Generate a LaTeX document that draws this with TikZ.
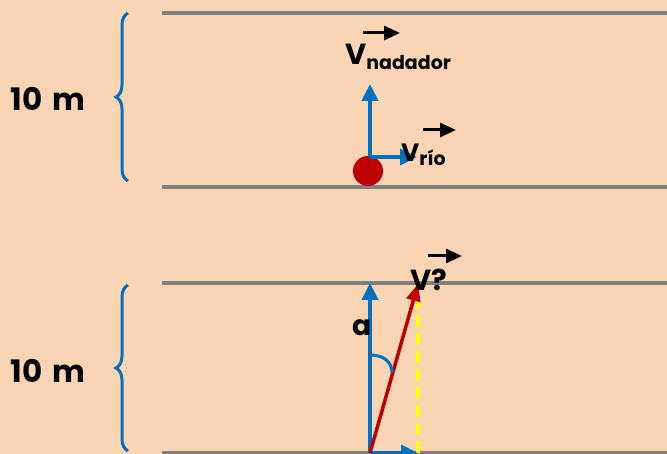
\documentclass[tikz,border=0pt]{standalone}
\usepackage{fontspec}
\setmainfont{Poppins}
\usetikzlibrary{arrows.meta, decorations.pathreplacing, positioning}
\definecolor{peach}{RGB}{250,213,180}
\definecolor{riverline}{RGB}{128,128,128}
\definecolor{vblue}{RGB}{0,112,192}
\definecolor{vred}{RGB}{192,0,0}
\definecolor{dashyellow}{RGB}{255,255,0}
\tikzset{
  bank/.style={draw=riverline, line width=3.5pt},
  widthbrace/.style={draw=vblue, line width=3pt, decorate,
    decoration={brace, amplitude=12pt}},
  velvec/.style={draw=vblue, line width=4pt, -{Triangle[length=17pt,width=16pt]}},
  resvec/.style={draw=vred, line width=3.5pt, -{Triangle[length=17pt,width=14pt]}},
  vecmark/.style={draw=black, line width=3pt, -{Triangle[length=16pt,width=14pt]}},
  lbl/.style={inner sep=0pt, anchor=base west, font=\bfseries},
}
\begin{document}
\begin{tikzpicture}[x=1pt, y=-1pt]
  \useasboundingbox (0,0) rectangle (667,454);
  \fill[peach] (0,0) rectangle (667,454);
  % river banks
  \draw[bank] (162,13) -- (667,13);
  \draw[bank] (162,187) -- (667,187);
  \draw[bank] (162,283) -- (667,283);
  \draw[bank] (162,453) -- (667,453);
  % widths
  \draw[widthbrace] (128,181) -- (128,13);
  \draw[widthbrace] (128,451) -- (128,285);
  \node[font=\bfseries\fontsize{31}{31}\selectfont, inner sep=0pt] (w1) at (48,99) {10\,\,m};
  \node[font=\bfseries\fontsize{31}{31}\selectfont, inner sep=0pt] (w2) at (48,371) {10\,\,m};

  % upper case: swimmer and the two velocities
  \coordinate (o1) at (370,157);
  \coordinate (swimtop) at (370,84);
  \coordinate (rivtip) at (417,157);
  \fill[vred] (368,171) circle (15);
  \draw[velvec] (o1) -- (swimtop);
  \draw[velvec] (o1) -- (rivtip);
  \node[lbl] (vnad) at (345,65)
    {{\fontsize{29}{29}\selectfont V}\raisebox{-5pt}{\fontsize{19}{19}\selectfont nadador}};
  \coordinate (vnadA) at (363,33);
  \coordinate (vnadB) at (400,33);
  \draw[vecmark] (vnadA) -- (vnadB);
  \node[lbl] (vrio) at (401,162)
    {{\fontsize{25}{25}\selectfont V}\raisebox{-4pt}{\fontsize{19}{19}\selectfont río}};
  \coordinate (vrioA) at (423,130);
  \coordinate (vrioB) at (456,130);
  \draw[vecmark] (vrioA) -- (vrioB);

  % lower case: crossing at angle
  \coordinate (o2) at (370,453);
  \coordinate (upt) at (370,283);
  \coordinate (rest) at (418,284);
  \coordinate (dashbot) at (418,453);
  \draw[dashyellow, line width=3.5pt, dash pattern=on 12pt off 6pt] (dashbot) -- (rest);
  \draw[velvec] (o2) -- (418,453);
  \draw[velvec] (o2) -- (upt);
  \draw[resvec] (o2) -- (rest);
  \coordinate (arcA) at (370,355);
  \coordinate (arcB) at (392,373);
  \draw[vblue, line width=3pt] (arcA) .. controls (384,355) and (392,362) .. (arcB);
  \node[lbl, font=\bfseries\fontsize{28}{28}\selectfont] (alpha) at (352,336) {a};
  \node[lbl, font=\bfseries\fontsize{29}{29}\selectfont] (vq) at (410,291) {V?};
  \coordinate (vqA) at (428,256);
  \coordinate (vqB) at (462,256);
  \draw[vecmark] (vqA) -- (vqB);
\end{tikzpicture}
\end{document}
